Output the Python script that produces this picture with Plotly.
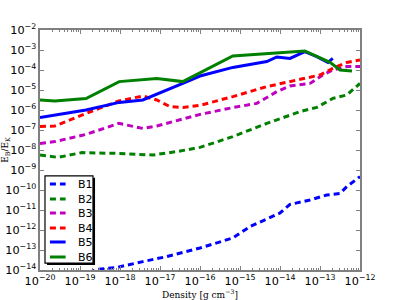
import plotly.graph_objects as go

# log10(density) and log10(E_B/E_K)
b1_x = [-20, -19, -18.58, -18.08, -17.43, -16.83, -16.0, -15.18, -14.75, -14.0, -13.75, -13.25, -12.83, -12.5, -12.33, -12.0]
b1_y = [-14.6, -14.3, -13.97, -13.87, -13.58, -13.33, -12.9, -12.4, -11.83, -11.15, -10.72, -10.5, -10.25, -10.17, -9.83, -9.33]

b2_x = [-20, -19.55, -18.95, -18.08, -17.18, -16.58, -16.0, -15.18, -14.33, -13.5, -13.08, -12.68, -12.33, -12.0]
b2_y = [-8.25, -8.37, -8.13, -8.17, -8.25, -8.08, -7.87, -7.33, -6.67, -6.08, -5.87, -5.42, -5.25, -4.67]

b3_x = [-20, -19.63, -18.85, -18.03, -17.43, -17.08, -16.43, -16.0, -15.18, -14.58, -14.08, -13.75, -13.25, -12.93, -12.68, -12.33, -12.0]
b3_y = [-7.67, -7.58, -7.22, -6.67, -6.92, -6.8, -6.45, -6.22, -5.88, -5.67, -5.08, -4.8, -4.67, -4.25, -4.0, -3.83, -3.83]

b4_x = [-20, -19.63, -18.85, -18.03, -17.43, -17.08, -16.75, -16.43, -16.0, -15.18, -14.33, -13.5, -13.0, -12.68, -12.33, -12.0]
b4_y = [-6.83, -6.8, -6.17, -5.55, -5.3, -5.5, -5.83, -5.87, -5.77, -5.33, -4.83, -4.47, -4.25, -3.92, -3.62, -3.5]

b5_x = [-20, -18.85, -18.02, -17.43, -16.43, -16.0, -15.18, -14.5, -14.33, -14.08, -13.75, -13.38, -13.08, -12.8, -12.68]
b5_y = [-6.37, -6.0, -5.62, -5.5, -4.67, -4.3, -3.87, -3.62, -3.58, -3.35, -3.42, -3.08, -3.33, -3.62, -3.42]

b6_x = [-20, -19.63, -18.85, -18.02, -17.08, -16.43, -15.18, -13.38, -12.75, -12.5, -12.2]
b6_y = [-5.5, -5.55, -5.43, -4.58, -4.42, -4.58, -3.3, -3.05, -3.62, -4.0, -4.05]

names = ["B1", "B2", "B3", "B4", "B5", "B6"]
xs_all = [b1_x, b2_x, b3_x, b4_x, b5_x, b6_x]
ys_all = [b1_y, b2_y, b3_y, b4_y, b5_y, b6_y]
colors = ["#0000ff", "#008000", "#bf00bf", "#ff0000", "#0000ff", "#008000"]
dashes = ["6px,4px", "6px,4px", "6px,4px", "6px,4px", "solid", "solid"]

fig = go.Figure()
for name, xs, ys, col, dash in zip(names, xs_all, ys_all, colors, dashes):
    fig.add_trace(go.Scatter(
        x=[10 ** v for v in xs], y=[10 ** v for v in ys], name=name,
        mode="lines", line=dict(color=col, width=3, dash=dash),
        showlegend=False,
    ))

axis_common = dict(
    type="log", showgrid=False, zeroline=False, showline=True,
    linecolor="#808080", linewidth=2, mirror="ticks",
    ticks="inside", ticklen=4, tickcolor="#808080",
    exponentformat="power", showexponent="all", automargin=False,
    tickfont=dict(family="DejaVu Sans", size=9, color="black"),
)

fig.update_xaxes(
    range=[-20, -12], dtick=1, **axis_common,
    minor=dict(ticks="inside", ticklen=2, tickcolor="#808080"),
    title=dict(text="Density [g cm<sup>−3</sup>]",
               font=dict(family="DejaVu Serif", size=9, color="black")),
)
fig.update_yaxes(
    range=[-14, -2], dtick=1, **axis_common,
    title=dict(text="E<sub>B</sub>/E<sub>K</sub>",
               font=dict(family="DejaVu Serif", size=9, color="black")),
)

# legend box (drawn by hand, matplotlib style with shadow)
shapes = [
    dict(type="rect", xref="paper", yref="paper", x0=0.022, x1=0.172, y0=0.021, y1=0.384,
         fillcolor="black", line=dict(width=0), layer="above"),
    dict(type="rect", xref="paper", yref="paper", x0=0.0156, x1=0.1656, y0=0.029, y1=0.392,
         fillcolor="white", line=dict(color="black", width=1.2), layer="above"),
]
annotations = []
row_y = [184, 199, 213, 228, 242, 257]
for i, (name, col, dash) in enumerate(zip(names, colors, dashes)):
    yp = (270 - row_y[i]) / 240
    shapes.append(dict(type="line", xref="paper", yref="paper", x0=0.031, x1=0.08, y0=yp, y1=yp,
                       line=dict(color=col, width=3, dash=dash), layer="above"))
    annotations.append(dict(text=name, xref="paper", yref="paper", x=0.112, y=yp,
                            xanchor="left", yanchor="middle", showarrow=False,
                            font=dict(family="DejaVu Sans", size=11, color="black")))

fig.update_layout(
    width=400, height=300,
    margin=dict(l=40, r=40, t=30, b=30),
    paper_bgcolor="white", plot_bgcolor="white",
    showlegend=False,
    shapes=shapes, annotations=annotations,
)

fig.write_html("out.html", config={"displayModeBar": False},
               post_script="document.body.style.margin='0';")
